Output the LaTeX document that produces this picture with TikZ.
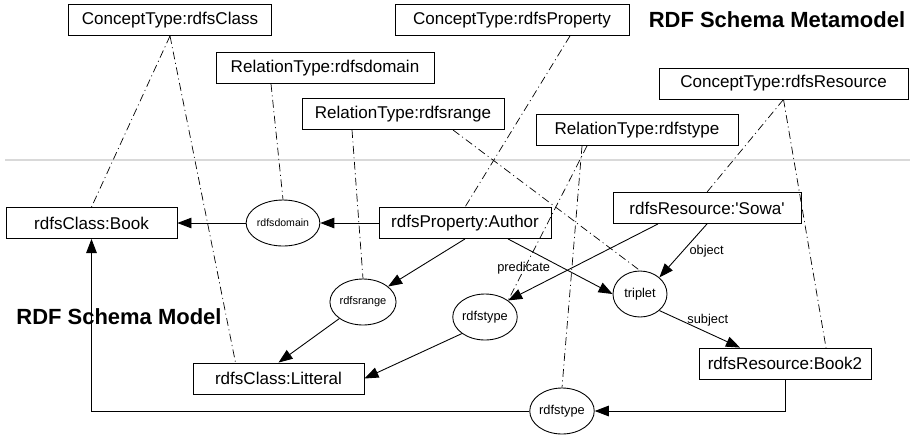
\documentclass[tikz,border=0pt]{standalone}
\usepackage{fontspec}
\setmainfont{Liberation Sans}
\usetikzlibrary{arrows.meta,shapes.geometric}
\tikzset{
  typebox/.style={draw,line width=0.5pt,minimum height=0.62cm,inner sep=0pt,font=\fontsize{9.7}{11}\selectfont},
  relnode/.style={draw,ellipse,line width=0.5pt,minimum width=1.08cm,minimum height=0.92cm,inner sep=0pt,font=\fontsize{7.3}{8}\selectfont},
  instof/.style={line width=0.4pt,dash pattern=on 4.5pt off 2pt on 0.6pt off 2pt},
  lbl/.style={font=\fontsize{7.3}{8}\selectfont},
  bigtitle/.style={font=\fontsize{12.5}{14}\selectfont\bfseries}
}
\begin{document}
\begin{tikzpicture}[x=0.02cm,y=-0.02cm,>={Triangle[length=8pt,width=6pt]},line width=0.5pt]
  \useasboundingbox (0,0) rectangle (910,434);
  \draw[gray!30,line width=1pt] (5,160)--(910,160);
  \node[typebox,minimum width=4.06cm] (cls) at (170,20) {ConceptType:rdfsClass};
  \node[typebox,minimum width=4.68cm] (prop) at (512,20) {ConceptType:rdfsProperty};
  \node[bigtitle] (meta) at (777,20) {RDF Schema Metamodel};
  \node[typebox,minimum width=4.36cm] (dom) at (325,68) {RelationType:rdfsdomain};
  \node[typebox,minimum width=4.98cm] (res) at (783.5,83.5) {ConceptType:rdfsResource};
  \node[typebox,minimum width=4.04cm] (rng) at (403,114) {RelationType:rdfsrange};
  \node[typebox,minimum width=4.04cm] (typ) at (637,130) {RelationType:rdfstype};
  \node[typebox,minimum width=3.42cm] (book) at (91.5,223) {rdfsClass:Book};
  \node[relnode,font=\fontsize{6}{7}\selectfont] (sdom) at (283,223) {rdfsdomain};
  \node[typebox,minimum width=3.44cm] (author) at (465,223) {rdfsProperty:Author};
  \node[typebox,minimum width=3.76cm] (sowa) at (707,208) {rdfsResource:\textquotesingle Sowa\textquotesingle};
  \node[relnode,font=\fontsize{6.3}{7}\selectfont] (srng) at (363,302) {rdfsrange};
  \node[relnode] (triplet) at (640,294) {triplet};
  \node[bigtitle] (model) at (119,317) {RDF Schema Model};
  \node[relnode] (mtype) at (485,317) {rdfstype};
  \node[typebox,minimum width=3.42cm] (lit) at (278.5,378.5) {rdfsClass:Litteral};
  \node[typebox,minimum width=3.44cm] (book2) at (785,363.5) {rdfsResource:Book2};
  \node[relnode] (btype) at (562,411) {rdfstype};
  \draw[->] (author) -- (sdom);
  \draw[->] (sdom) -- (book);
  \draw[->] (author.south) -- (srng);
  \draw[->] (srng.south west) -- (lit.north);
  \draw[->] (mtype.south west) -- (lit.east);
  \draw[->] ([xshift=-0.98cm]sowa.south) -- (mtype.north east);
  \draw[->] ([xshift=0.86cm]author.south) -- (triplet.west) node[pos=0.15,below=5pt,lbl] {predicate};
  \draw[->] (sowa.south) -- (triplet.north east) node[midway,right,lbl] {object};
  \draw[->] (triplet.south east) -- ([xshift=-0.9cm]book2.north) node[pos=0.6,above,lbl] {subject};
  \draw[->] (book2.south) |- (btype.east);
  \draw[->] (btype.west) -| (book.south);
  \draw[instof] (cls.south) -- (book.north);
  \draw[instof] (cls.south) -- ([xshift=-0.86cm]lit.north);
  \draw[instof] ([xshift=-1.08cm]dom.south) -- (sdom.north);
  \draw[instof] ([xshift=-1.02cm]rng.south) -- (srng.north);
  \draw[instof] ([xshift=1cm]rng.south) -- (triplet.north);
  \draw[instof] ([xshift=1.16cm]prop.south) -- (author.north);
  \draw[instof] ([xshift=-1cm]typ.south) -- (mtype.north east);
  \draw[instof] ([xshift=-1.1cm]typ.south) -- (btype.north);
  \draw[instof] (res.south) -- (sowa.north);
  \draw[instof] (res.south) -- ([xshift=0.82cm]book2.north);
\end{tikzpicture}
\end{document}
